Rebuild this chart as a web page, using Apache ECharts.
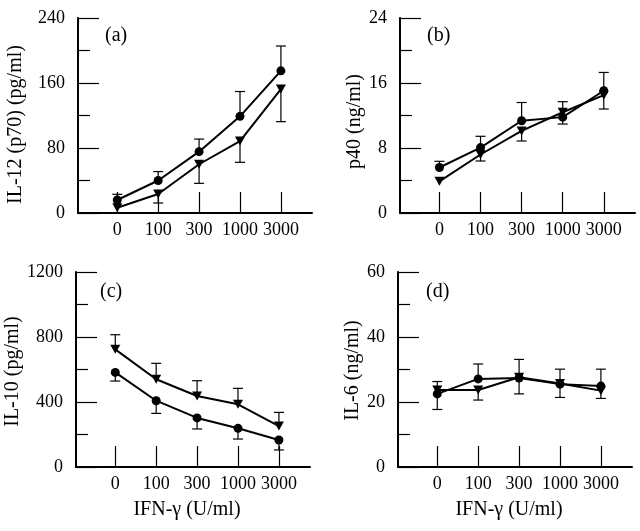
<!DOCTYPE html>
<html>
<head>
<meta charset="utf-8">
<script src="https://cdn.jsdelivr.net/npm/echarts@6/dist/echarts.min.js"></script>
<style>html,body{margin:0;padding:0;background:#fff}#c{width:640px;height:531px}</style>
</head>
<body>
<div id="c"></div>
<script>
// Categories (IFN-gamma, U/ml)
var xLabels = ['0', '100', '300', '1000', '3000'];

// Panel (a) IL-12 (p70) pg/ml
var aCircle = [16, 40, 75.5, 119, 175];
var aCircleErrEnd = [23, 51, 91, 149.5, 205.5];
var aTri = [6.5, 23.4, 60, 88.6, 152.5];
var aTriErrEnd = [6.5, 12.3, 36.5, 62.4, 112.4];

// Panel (b) p40 ng/ml
var bCircle = [5.6, 8.05, 11.35, 11.8, 15.05];
var bCircleErrEnd = [6.36, 9.44, 13.6, 13.7, 17.3];
var bTri = [3.9, 7.2, 10.1, 12.4, 14.5];
var bTriErrEnd = [3.9, 6.4, 8.86, 10.95, 12.8];

// Panel (c) IL-10 pg/ml
var cCircle = [582, 408, 302, 238, 166];
var cCircleErrEnd = [529, 330, 234, 172, 105];
var cTri = [724, 540, 437, 386, 252];
var cTriErrEnd = [814, 638, 531, 484, 336];

// Panel (d) IL-6 ng/ml
var dCircle = [22.5, 27.1, 27.4, 25.5, 24.9];
var dCircleErrEnd = [17.7, 31.7, 33.1, 21.4, 30.1];
var dTri = [23.7, 23.7, 27.6, 25.7, 23.5];
var dTriErrEnd = [26.3, 20.6, 22.5, 30.1, 21.1];

var yNames = ['IL-12 (p70) (pg/ml)', 'p40 (ng/ml)', 'IL-10 (pg/ml)', 'IL-6 (ng/ml)'];
var yMax = [240, 24, 1200, 60];
var yInterval = [80, 8, 400, 20];
var panelTags = ['(a)', '(b)', '(c)', '(d)'];
var xName = 'IFN-\u03b3 (U/ml)';

var FONT = 'Liberation Serif';
var grids = [
  {left: 78, top: 18, width: 234, height: 195},
  {left: 400, top: 18, width: 235, height: 195},
  {left: 76, top: 272, width: 234, height: 195},
  {left: 398, top: 272, width: 234, height: 195}
];
var nameGaps = [52, 31, 53, 32];
var namePads = [[0, 18, 0, 0], [0, 12, 0, 0], [0, 4, 0, 0], [0, 2, 0, 0]];
var tagPos = [[105, 26], [427, 26], [100, 282], [426, 282]];

var circles = [aCircle, bCircle, cCircle, dCircle];
var circleErr = [aCircleErrEnd, bCircleErrEnd, cCircleErrEnd, dCircleErrEnd];
var tris = [aTri, bTri, cTri, dTri];
var triErr = [aTriErrEnd, bTriErrEnd, cTriErrEnd, dTriErrEnd];

function pts(vals) { return vals.map(function (v, i) { return [i, v]; }); }
function errPts(vals, ends) { return vals.map(function (v, i) { return [i, v, ends[i]]; }); }

function renderErr(params, api) {
  var x = api.value(0), v = api.value(1), e = api.value(2);
  var p0 = api.coord([x, v]), p1 = api.coord([x, e]);
  if (Math.abs(p1[1] - p0[1]) < 0.5) return null;
  return {
    type: 'group',
    children: [
      {type: 'line', shape: {x1: p0[0], y1: p0[1], x2: p1[0], y2: p1[1]}, style: {stroke: '#000', lineWidth: 1.2}},
      {type: 'line', shape: {x1: p1[0] - 5, y1: p1[1], x2: p1[0] + 5, y2: p1[1]}, style: {stroke: '#000', lineWidth: 1.2}}
    ]
  };
}

var option = {
  animation: false,
  backgroundColor: '#fff',
  title: [], grid: [], xAxis: [], yAxis: [], series: []
};

for (var k = 0; k < 4; k++) {
  option.grid.push(grids[k]);
  option.title.push({
    text: panelTags[k], left: tagPos[k][0], top: tagPos[k][1], padding: 0,
    textStyle: {fontFamily: FONT, fontSize: 20, fontWeight: 'normal', color: '#000'}
  });
  option.xAxis.push({
    type: 'value', gridIndex: k, min: -0.96, max: 4.76,
    splitLine: {show: false},
    axisLine: {show: true, onZero: false, lineStyle: {color: '#000', width: 2}},
    axisTick: {show: true, inside: true, length: 21, customValues: [0, 1, 2, 3, 4], lineStyle: {color: '#000', width: 1.2}},
    axisLabel: {
      customValues: [0, 1, 2, 3, 4], margin: 8,
      fontFamily: FONT, fontSize: 18, color: '#000',
      formatter: function (v) { return xLabels[Math.round(v)] || ''; }
    },
    name: k >= 2 ? xName : '', nameLocation: 'middle', nameGap: 33,
    nameTextStyle: {fontFamily: FONT, fontSize: 20, color: '#000', padding: [0, 12, 0, 0]}
  });
  option.yAxis.push({
    type: 'value', gridIndex: k, min: 0, max: yMax[k], interval: yInterval[k],
    splitLine: {show: false},
    axisLine: {show: true, onZero: false, lineStyle: {color: '#000', width: 2}},
    axisTick: {show: true, inside: true, length: 21, lineStyle: {color: '#000', width: 1.2}},
    axisLabel: {margin: 13, fontFamily: FONT, fontSize: 18, color: '#000',
      formatter: function (v) { return String(v); }},
    name: yNames[k], nameLocation: 'middle', nameGap: nameGaps[k],
    nameTextStyle: {fontFamily: FONT, fontSize: 20, color: '#000', padding: namePads[k]}
  });
  option.series.push({
    type: 'custom', xAxisIndex: k, yAxisIndex: k, renderItem: renderErr,
    encode: {x: 0, y: 1}, data: errPts(circles[k], circleErr[k]), z: 1, silent: true
  });
  option.series.push({
    type: 'custom', xAxisIndex: k, yAxisIndex: k, renderItem: renderErr,
    encode: {x: 0, y: 1}, data: errPts(tris[k], triErr[k]), z: 1, silent: true
  });
  option.series.push({
    type: 'line', xAxisIndex: k, yAxisIndex: k, data: pts(circles[k]),
    symbol: 'circle', symbolSize: 9, showAllSymbol: true,
    lineStyle: {color: '#000', width: 2}, itemStyle: {color: '#000'}, z: 3
  });
  option.series.push({
    type: 'line', xAxisIndex: k, yAxisIndex: k, data: pts(tris[k]),
    symbol: 'triangle', symbolRotate: 180, symbolSize: [10, 9], showAllSymbol: true,
    lineStyle: {color: '#000', width: 2}, itemStyle: {color: '#000'}, z: 3
  });
}

// Overlay grids carrying the short (minor) y ticks halfway between labelled ticks
for (var m = 0; m < 4; m++) {
  option.grid.push(grids[m]);
  var minorVals = [];
  for (var t = yInterval[m] / 2; t < yMax[m]; t += yInterval[m]) minorVals.push(t);
  option.xAxis.push({
    type: 'value', gridIndex: 4 + m, min: -0.96, max: 4.76, show: false
  });
  option.yAxis.push({
    type: 'value', gridIndex: 4 + m, min: 0, max: yMax[m],
    splitLine: {show: false},
    axisLine: {show: false, onZero: false},
    axisTick: {show: true, inside: true, length: 12, customValues: minorVals, lineStyle: {color: '#000', width: 1.2}},
    axisLabel: {show: false}
  });
}

var chart = echarts.init(document.getElementById('c'), null, {renderer: 'canvas'});
chart.setOption(option);
</script>
</body>
</html>
